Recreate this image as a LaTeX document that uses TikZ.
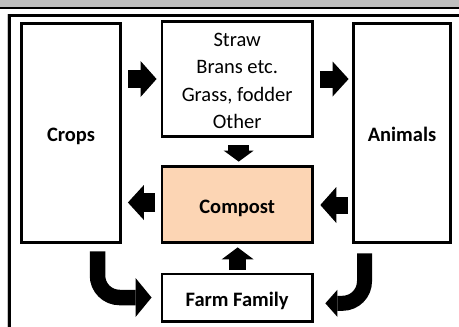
\documentclass[tikz,border=0pt]{standalone}
\usepackage{fontspec}
\setmainfont{Carlito}
\usetikzlibrary{arrows.meta}
\definecolor{compostfill}{HTML}{FCD5B4}
\definecolor{bandgray}{HTML}{BFBFBF}
\tikzset{
  box/.style={draw, line width=2.8pt, fill=white, inner sep=0pt,
    font=\fontsize{20.5}{27.3}\selectfont, align=center},
  onelabel/.style={font=\bfseries\fontsize{20.5}{24}\selectfont,
    text height=17.5pt, text depth=0pt},
  blockarrow/.style n args={3}{line width=#1,
    -{Triangle[length=#2,width=#3,line width=0pt]}},
  bentarrow/.style n args={3}{line width=#1, rounded corners=22pt,
    -{Triangle[length=#2,width=#3,line width=0pt]}},
}
\begin{document}
\begin{tikzpicture}[x=1pt,y=-1pt]
\useasboundingbox (0,0) rectangle (459,327);
% header band and frame
\fill[bandgray] (0,0) rectangle (459,6.6);
\draw[line width=1.7pt] (0,8.2) -- (459,8.2);
\draw[gray!45, line width=1pt] (7.2,14) -- (7.2,327);
\draw[line width=2.5pt] (8.3,15.3) -- (459,15.3);
\draw[line width=2.4pt] (9.5,14) -- (9.5,327);

% boxes
\node[box, onelabel, minimum width=99pt, minimum height=219pt] (crops)
  at (71,133) {Crops};
\node[box, text height=25pt, text depth=90pt, minimum width=150.5pt,
  minimum height=111pt] (mats) at (237.2,79)
  {\begin{tabular}[t]{@{}c@{}}Straw\\Brans etc.\\Grass, fodder\\Other\end{tabular}};
\node[box, onelabel, minimum width=97pt, minimum height=219pt] (animals)
  at (402,133) {Animals};
\node[box, onelabel, fill=compostfill, minimum width=150.5pt, minimum height=76pt]
  (compost) at (237.2,204.5) {Compost};
\node[box, onelabel, minimum width=150.5pt, minimum height=47.5pt] (farm)
  at (237.2,297.8) {Farm Family};

% straight block arrows
\draw[blockarrow={18pt}{16pt}{36pt}, shorten <=6.5pt, shorten >=4pt]
  (crops.east |- mats.west) -- (mats.west);
\draw[blockarrow={17pt}{16pt}{35pt}, shorten <=6pt, shorten >=3.5pt]
  (mats.east) -- (mats.east -| animals.west);
\draw[blockarrow={21pt}{11pt}{30pt}, shorten <=7.5pt, shorten >=3.5pt]
  ([xshift=1.5pt]mats.south) -- ([xshift=1.5pt]compost.north);
\draw[blockarrow={19pt}{16pt}{35pt}, shorten <=5.5pt, shorten >=6pt]
  ([yshift=2pt]compost.west) -- ([yshift=2pt]compost.west -| crops.east);
\draw[blockarrow={17pt}{16pt}{36pt}, shorten <=4.5pt, shorten >=6.5pt]
  ([yshift=-0.5pt]animals.west |- compost.east) -- ([yshift=-0.5pt]compost.east);
\draw[blockarrow={17pt}{12pt}{32pt}, shorten <=2.5pt, shorten >=3.5pt]
  ([xshift=0.5pt]farm.north) -- ([xshift=0.5pt]compost.north |- compost.south);

% bent arrows into the farm family
\draw[bentarrow={15.5pt}{16pt}{39pt}]
  ([xshift=26.5pt,yshift=-7.5pt]crops.south) |- ([xshift=-9pt,yshift=0.3pt]farm.west);
\draw[bentarrow={15pt}{12pt}{27pt}]
  ([xshift=-37.5pt,yshift=-9.5pt]animals.south) |- ([xshift=11.5pt,yshift=-5.5pt]farm.east);
\end{tikzpicture}
\end{document}
